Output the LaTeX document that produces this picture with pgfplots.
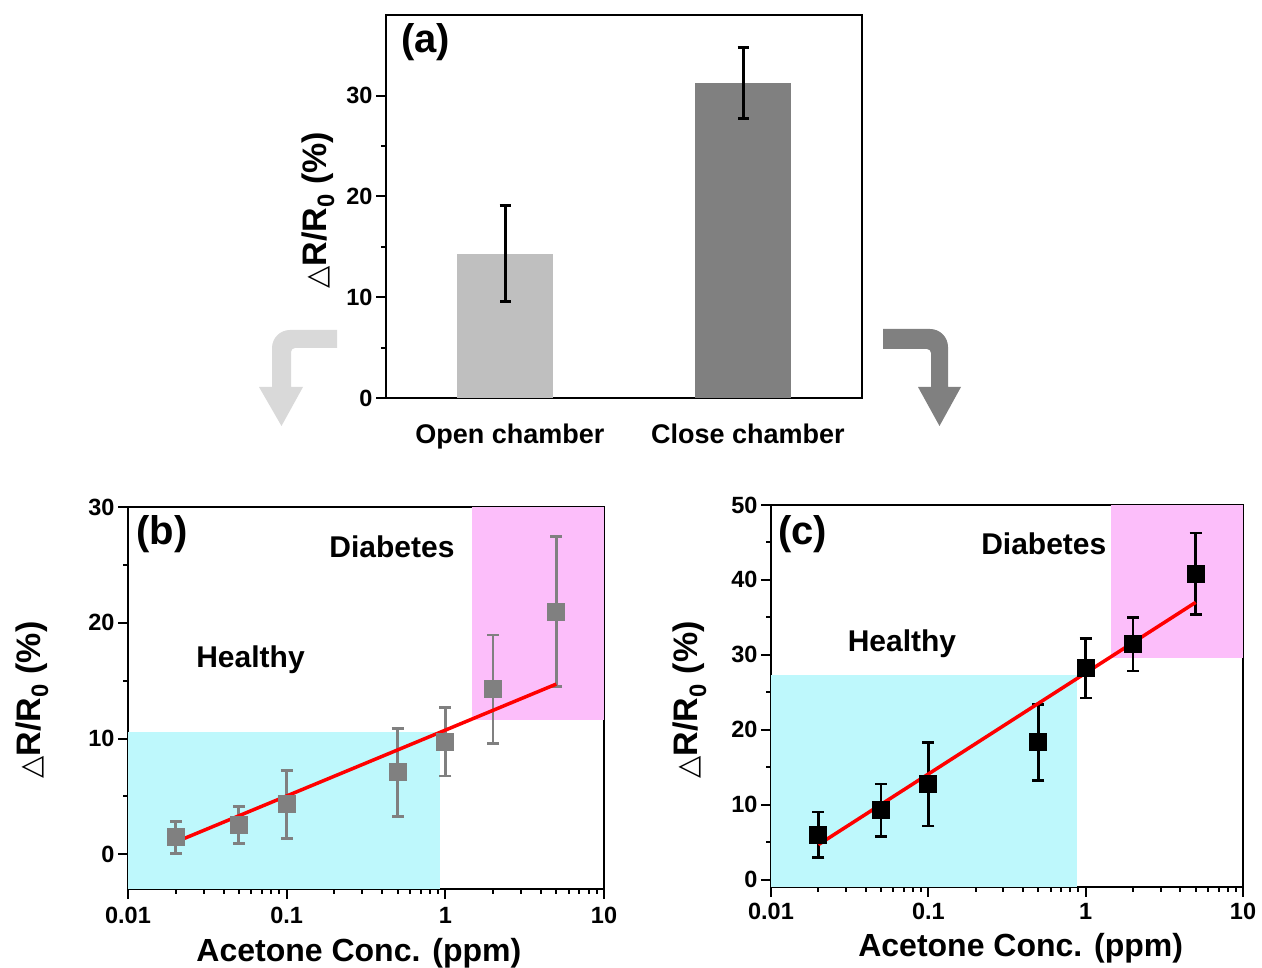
\documentclass[border=0pt]{standalone}
\usepackage{fontspec}
\setmainfont{Liberation Sans}
\newfontfamily\djfont{DejaVu Sans}[Scale=0.85]
\usepackage{pgfplots}
\pgfplotsset{compat=1.18}
\definecolor{cyanbox}{RGB}{190,248,252}
\definecolor{pinkbox}{RGB}{252,190,250}
\definecolor{lgray}{RGB}{191,191,191}
\definecolor{dgray}{RGB}{128,128,128}
\definecolor{arrowlg}{RGB}{217,217,217}
\pgfplotsset{
  common/.style={
    scale only axis,
    anchor=south west,
    axis line style={line width=2pt},
    tick style={line width=2pt, black},
    major tick length=10pt, minor tick length=5pt,
    tick align=outside, tick pos=left,
    tick label style={font=\fontsize{23.5}{28}\selectfont\bfseries},
    /pgf/number format/assume math mode=true,
    xlabel style={font=\fontsize{32}{38}\selectfont\bfseries},
    ylabel style={font=\fontsize{34}{40}\selectfont\bfseries},
    ylabel={{\djfont △}R/R\textsubscript{0} (\%)},
  },
  logax/.style={
    common, xmin=0.01, xmax=10,
    xtick={0.01,0.1,1,10}, xticklabels={0.01,0.1,1,10},
    minor y tick num=1,
    xlabel={Acetone Conc. (ppm)},
  },
  ebar/.style n args={3}{draw=none, error bars/.cd, y dir=both, y explicit,
    error bar style={line width=#3, draw=#1},
    error mark options={rotate=90, line width=#3, mark size=#2, draw=#1}},
}
\begin{document}
\begin{tikzpicture}
\useasboundingbox (0pt,0pt) rectangle (1262pt,968pt);
% arrows
\fill[arrowlg] (337pt,620pt) -- (337pt,638pt) -- (290pt,638pt)
  arc[start angle=90,end angle=180,radius=18pt] -- (272pt,581pt) -- (259pt,581pt)
  -- (281.5pt,542pt) -- (303pt,581pt) -- (291pt,581pt) -- (291pt,616pt)
  arc[start angle=180,end angle=90,radius=4pt] -- cycle;
\fill[dgray] (883pt,619pt) -- (883pt,639pt) -- (930pt,639pt)
  arc[start angle=90,end angle=0,radius=18pt] -- (948pt,581pt) -- (961pt,581pt)
  -- (939.5pt,542pt) -- (918pt,581pt) -- (931pt,581pt) -- (931pt,615pt)
  arc[start angle=0,end angle=90,radius=4pt] -- cycle;

% (a)
\begin{axis}[common, at={(386pt,570pt)}, width=476pt, height=383pt,
  xmin=0.5, xmax=2.5, ymin=0, ymax=38,
  xtick={1,2}, xticklabels={Open chamber, Close chamber},
  x tick label style={font=\fontsize{27}{32}\selectfont\bfseries, yshift=-12pt, xshift=5pt},
  xtick style={draw=none},
  ytick={0,10,20,30}, minor y tick num=1,
  ylabel style={at={(axis description cs:-0.143,0.49)}, anchor=center},
]
\addplot[ybar, bar width=0.4, bar shift=0pt, fill=lgray, draw=none]
  coordinates {(1,14.3)};
\addplot[ybar, bar width=0.4, bar shift=0pt, fill=dgray, draw=none]
  coordinates {(2,31.25)};
\addplot[ebar={black}{5.5pt}{3pt}] coordinates {(1,14.3) +- (0,4.75) (2,31.25) +- (0,3.55)};
\node[anchor=north west, inner sep=0pt, font=\fontsize{40}{48}\selectfont\bfseries]
  at (axis description cs:0.0315,0.979) {(a)};
\end{axis}

% (b)
\begin{axis}[xmode=log, logax, at={(128pt,79pt)}, width=476pt, height=382pt,
  ymin=-3, ymax=30, ytick={0,10,20,30},
  x tick label style={yshift=-5pt},
  xlabel style={at={(axis description cs:0.485,-0.191)}, anchor=base},
  ylabel style={at={(axis description cs:-0.202,0.495)}, anchor=center},
]
\addplot[fill=cyanbox, draw=none] coordinates {(0.01,-3) (0.925,-3) (0.925,10.58) (0.01,10.58)} -- cycle;
\addplot[fill=pinkbox, draw=none] coordinates {(1.48,11.64) (10,11.64) (10,30) (1.48,30)} -- cycle;
\addplot[ebar={dgray}{6pt}{2.8pt}] coordinates {
  (0.02,1.45) +- (0,1.4)
  (0.05,2.53) +- (0,1.6)
  (0.1,4.31) +- (0,2.96)
  (0.5,7.07) +- (0,3.8)
  (1,9.71) +- (0,2.95)
  (2,14.25) +- (0,4.7)
  (5,20.97) +- (0,6.5)
};
\addplot[red, line width=3.5pt] coordinates {(0.02,1.06) (5,14.7)};
\addplot[only marks, mark=square*, mark size=8.5pt, dgray, mark options={line width=1pt}] coordinates {
  (0.02,1.45) (0.05,2.53) (0.1,4.31) (0.5,7.07) (1,9.71) (2,14.25) (5,20.97)
};
\node[anchor=north west, inner sep=0pt, font=\fontsize{40}{48}\selectfont\bfseries]
  at (axis description cs:0.017,0.979) {(b)};
\node[anchor=base, inner sep=0pt, font=\fontsize{30}{36}\selectfont\bfseries]
  at (axis description cs:0.5546,0.869) {Diabetes};
\node[anchor=base, inner sep=0pt, font=\fontsize{30}{36}\selectfont\bfseries]
  at (axis description cs:0.2574,0.580) {Healthy};
\end{axis}

% (c)
\begin{axis}[xmode=log, logax, at={(771pt,81pt)}, width=472pt, height=382pt,
  ymin=-1, ymax=50, ytick={0,10,20,30,40,50},
  x tick label style={yshift=-3pt},
  xlabel style={at={(axis description cs:0.529,-0.182)}, anchor=base},
  ylabel style={at={(axis description cs:-0.172,0.49)}, anchor=center},
]
\addplot[fill=cyanbox, draw=none] coordinates {(0.01,-1) (0.877,-1) (0.877,27.26) (0.01,27.26)} -- cycle;
\addplot[fill=pinkbox, draw=none] coordinates {(1.45,29.6) (10,29.6) (10,50) (1.45,50)} -- cycle;
\addplot[ebar={black}{6pt}{2.5pt}] coordinates {
  (0.02,5.98) +- (0,3.05)
  (0.05,9.22) +- (0,3.5)
  (0.1,12.72) +- (0,5.6)
  (0.5,18.3) +- (0,5.05)
  (1,28.2) +- (0,4.0)
  (2,31.4) +- (0,3.55)
  (5,40.8) +- (0,5.45)
};
\addplot[red, line width=3.5pt] coordinates {(0.02,4.65) (5,37.0)};
\addplot[only marks, mark=square*, mark size=8.5pt, black, mark options={line width=1pt}] coordinates {
  (0.02,5.98) (0.05,9.22) (0.1,12.72) (0.5,18.3) (1,28.2) (2,31.4) (5,40.8)
};
\node[anchor=north west, inner sep=0pt, font=\fontsize{40}{48}\selectfont\bfseries]
  at (axis description cs:0.015,0.974) {(c)};
\node[anchor=base, inner sep=0pt, font=\fontsize{30}{36}\selectfont\bfseries]
  at (axis description cs:0.578,0.871) {Diabetes};
\node[anchor=base, inner sep=0pt, font=\fontsize{30}{36}\selectfont\bfseries]
  at (axis description cs:0.2775,0.616) {Healthy};
\end{axis}
\end{tikzpicture}
\end{document}
